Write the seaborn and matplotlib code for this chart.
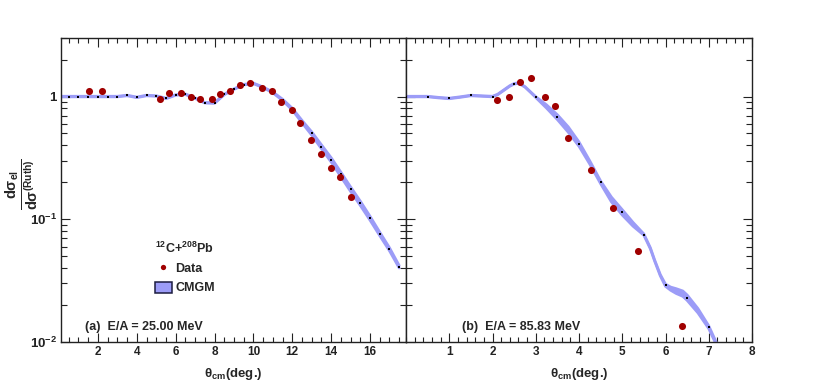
import numpy as np
import pandas as pd
import matplotlib
matplotlib.use("Agg")
import matplotlib.pyplot as plt
import seaborn as sns
from matplotlib.ticker import FixedLocator, FixedFormatter, MultipleLocator, LogLocator, NullFormatter
from matplotlib.lines import Line2D
from matplotlib.patches import Patch

# ---------------- data: panel (a) E/A = 25.00 MeV ----------------
data_a_theta = [1.54, 2.19, 5.19, 5.67, 6.26, 6.79, 7.27, 7.87, 8.26, 8.81, 9.31,
                9.84, 10.42, 10.97, 11.42, 11.97, 12.41, 12.95, 13.48, 13.98, 14.47, 15.04]
data_a_ratio = [1.12, 1.12, 0.96, 1.06, 1.06, 1.00, 0.95, 0.95, 1.05, 1.12, 1.24,
                1.30, 1.17, 1.11, 0.905, 0.773, 0.605, 0.440, 0.340, 0.260, 0.221, 0.151]

theory_a_theta = [0.0, 0.5, 1.0, 1.5, 2.0, 2.5, 3.0, 3.5, 4.0, 4.5, 5.0, 5.5, 6.0, 6.5,
                  7.0, 7.5, 8.0, 8.5, 9.0, 9.5, 10.0, 10.5, 11.0, 11.5, 12.0, 12.5, 13.0,
                  13.5, 14.0, 14.5, 15.0, 15.5, 16.0, 16.5, 17.0, 17.5]
theory_a_mid = [1.0, 1.0, 1.0, 1.0, 1.0, 1.0, 1.0, 1.02, 0.985, 1.02, 1.01, 0.965, 1.03, 1.045,
                0.97, 0.89, 0.885, 1.04, 1.15, 1.25, 1.28, 1.19, 1.08, 0.94, 0.79, 0.625, 0.50,
                0.39, 0.305, 0.232, 0.176, 0.135, 0.102, 0.076, 0.057, 0.041]
theory_a_spread = [0.005, 0.005, 0.005, 0.005, 0.005, 0.005, 0.005, 0.005, 0.005, 0.005, 0.005,
                   0.005, 0.005, 0.005, 0.005, 0.005, 0.005, 0.005, 0.005, 0.005, 0.005, 0.005,
                   0.008, 0.012, 0.016, 0.022, 0.03, 0.036, 0.04, 0.042, 0.042, 0.04, 0.036,
                   0.032, 0.028, 0.022]

# ---------------- data: panel (b) E/A = 85.83 MeV ----------------
data_b_theta = [2.10, 2.37, 2.63, 2.90, 3.22, 3.45, 3.74, 4.28, 4.78, 5.36, 6.39]
data_b_ratio = [0.93, 0.99, 1.32, 1.41, 0.99, 0.83, 0.457, 0.254, 0.123, 0.0553, 0.0135]

theory_b_theta = [0.0, 0.25, 0.5, 0.75, 1.0, 1.25, 1.5, 1.75, 2.0, 2.12, 2.25, 2.4, 2.5, 2.6,
                  2.75, 2.9, 3.0, 3.25, 3.5, 3.75, 4.0, 4.25, 4.5, 4.75, 5.0, 5.25, 5.5, 5.65,
                  5.75, 5.88, 6.0, 6.12, 6.25, 6.4, 6.5, 6.75, 7.0, 7.25, 7.5]
theory_b_mid = [1.0, 1.0, 1.0, 0.98, 0.965, 0.99, 1.02, 1.01, 1.0, 1.04, 1.12, 1.22, 1.27, 1.29,
                1.20, 1.07, 0.99, 0.83, 0.68, 0.54, 0.41, 0.29, 0.20, 0.145, 0.114, 0.091,
                0.075, 0.058, 0.046, 0.035, 0.029, 0.0272, 0.026, 0.0248, 0.023, 0.018, 0.0132,
                0.0085, 0.0055]
theory_b_spread = [0.005, 0.005, 0.005, 0.005, 0.005, 0.005, 0.005, 0.005, 0.005, 0.005, 0.005,
                   0.005, 0.005, 0.005, 0.005, 0.005, 0.008, 0.03, 0.045, 0.05, 0.04, 0.03,
                   0.025, 0.045, 0.05, 0.035, 0.012, 0.01, 0.01, 0.012, 0.02, 0.03, 0.045,
                   0.05, 0.05, 0.04, 0.025, 0.02, 0.02]

yticks = [0.01, 0.1, 1.0]
ytick_labels = ["10$^{-2}$", "10$^{-1}$", "1"]
label_a = "(a)  E/A = 25.00 MeV"
label_b = "(b)  E/A = 85.83 MeV"

# ---------------- style ----------------
sns.set_style("ticks")
plt.rcParams["font.family"] = ["Liberation Sans", "DejaVu Sans"]
plt.rcParams["font.weight"] = "bold"
plt.rcParams["mathtext.fontset"] = "custom"
plt.rcParams["mathtext.rm"] = "Liberation Sans:bold"
plt.rcParams["mathtext.it"] = "Liberation Sans:bold"
plt.rcParams["mathtext.bf"] = "Liberation Sans:bold"
plt.rcParams["mathtext.sf"] = "Liberation Sans:bold"
plt.rcParams["mathtext.default"] = "rm"

BAND = "#9c9cf7"
RED = "#a00000"

W, H = 814, 389
fig = plt.figure(figsize=(W / 100, H / 100), dpi=100)
axA = fig.add_axes([61 / W, 47 / H, 345 / W, 304 / H])
axB = fig.add_axes([406 / W, 47 / H, 346 / W, 304 / H])


def draw_theory(ax, th, mid, spread):
    df = pd.DataFrame({"theta": th, "mid": mid, "s": spread})
    df["lo"] = df["mid"] * (1 - df["s"])
    df["hi"] = df["mid"] * (1 + df["s"])
    ax.fill_between(df["theta"], df["lo"], df["hi"], color=BAND, lw=0, zorder=2)
    sns.lineplot(data=df, x="theta", y="lo", ax=ax, color=BAND, lw=2.0, sort=False,
                 estimator=None, zorder=2)
    sns.lineplot(data=df, x="theta", y="hi", ax=ax, color=BAND, lw=2.0, sort=False,
                 estimator=None, zorder=2)
    half = df["theta"] * 2
    dots = df[np.isclose(half, np.round(half))]
    sns.scatterplot(data=dots, x="theta", y="mid", ax=ax, color="black", marker="s",
                    s=1.6, linewidth=0, zorder=3)


def draw_data(ax, th, r):
    df = pd.DataFrame({"theta": th, "ratio": r})
    sns.scatterplot(data=df, x="theta", y="ratio", ax=ax, color=RED, s=26,
                    linewidth=0, zorder=4)


draw_theory(axA, theory_a_theta, theory_a_mid, theory_a_spread)
draw_data(axA, data_a_theta, data_a_ratio)
draw_theory(axB, theory_b_theta, theory_b_mid, theory_b_spread)
draw_data(axB, data_b_theta, data_b_ratio)

axA.set_xlim(0.1, 17.85)
axB.set_xlim(0.0, 8.0)

for ax in (axA, axB):
    ax.set_yscale("log")
    ax.set_ylim(0.01, 3.0)
    for sp in ax.spines.values():
        sp.set_linewidth(1.0)
        sp.set_color("#222222")
    ax.tick_params(which="both", direction="in", top=True, right=True, width=0.8,
                   colors="#222222", labelsize=8.5, pad=3)
    ax.tick_params(which="major", length=6.5)
    ax.tick_params(which="minor", length=3.3)
    ax.tick_params(axis="y", which="minor", length=4.2)
    ax.yaxis.set_major_locator(FixedLocator(yticks))
    ax.yaxis.set_minor_locator(LogLocator(base=10, subs=np.arange(2, 10)))
    ax.yaxis.set_minor_formatter(NullFormatter())
    ax.set_xlabel(r"$\theta_{cm}$(deg.)", fontsize=9.5, fontweight="bold", labelpad=6)
    ax.set_ylabel("")
    for lab in ax.get_xticklabels() + ax.get_yticklabels():
        lab.set_fontweight("bold")

axA.xaxis.set_major_locator(FixedLocator([2, 4, 6, 8, 10, 12, 14, 16]))
axA.xaxis.set_minor_locator(MultipleLocator(0.5))
axA.yaxis.set_major_formatter(FixedFormatter(ytick_labels))
axA.tick_params(axis="y", labelsize=9.5)
axB.xaxis.set_major_locator(FixedLocator([1, 2, 3, 4, 5, 6, 7, 8]))
axB.xaxis.set_minor_locator(MultipleLocator(0.2))
axB.tick_params(axis="y", which="both", labelleft=False)

fig.text(22 / W, 1 - 184 / H, r"$\frac{d\sigma_{el}}{d\sigma^{(Ruth)}}$", rotation=90,
         ha="center", va="center", fontsize=15)

axA.text((85 - 61) / 345, (342 - 330) / 304, label_a, transform=axA.transAxes,
         fontsize=9, fontweight="bold", va="baseline", ha="left")
axB.text((462 - 406) / 346, (342 - 330) / 304, label_b, transform=axB.transAxes,
         fontsize=9, fontweight="bold", va="baseline", ha="left")

handles = [Line2D([], [], marker="o", ls="none", color=RED, ms=3.8, mew=0),
           Patch(facecolor=BAND, edgecolor="#1c1c40", lw=1.1)]
leg = axA.legend(handles, ["Data", "CMGM"], title=r"$^{12}$C+$^{208}$Pb",
                 loc="upper left", bbox_to_anchor=(155 / W, 1 - 241 / H),
                 bbox_transform=fig.transFigure, frameon=False, borderpad=0,
                 borderaxespad=0, handlelength=1.35, handleheight=1.0,
                 handletextpad=0.25, labelspacing=0.5,
                 prop={"size": 9, "weight": "bold"},
                 title_fontproperties={"size": 9, "weight": "bold"})

fig.savefig("out.png", dpi=100)
